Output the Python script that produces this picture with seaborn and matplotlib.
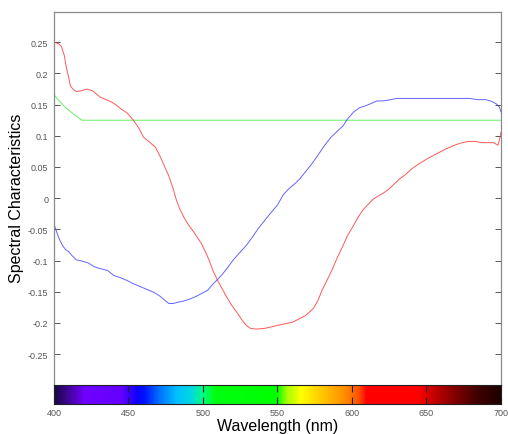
import numpy as np
import pandas as pd
import matplotlib
matplotlib.use("Agg")
import matplotlib.pyplot as plt
from matplotlib.colors import LinearSegmentedColormap
import seaborn as sns

# Red characteristic (wavelength nm, value)
red_nm = [400, 403, 405, 407, 408, 410, 411, 413, 415, 418, 422, 426, 431, 435, 438,
          442, 445, 449, 453, 457, 460, 464, 468, 471, 474, 477, 480, 482, 484, 487,
          490, 494, 499, 502, 504, 507, 510, 513, 516, 519, 523, 526, 529, 532, 536,
          541, 545, 550, 554, 560, 565, 569, 574, 577, 580, 584, 587, 590, 594, 597,
          601, 604, 607, 610, 614, 618, 621, 625, 628, 632, 636, 640, 643, 647, 651,
          655, 659, 663, 666, 670, 674, 678, 683, 687, 691, 695, 698, 699, 700]
red_val = [0.250, 0.248, 0.243, 0.228, 0.213, 0.192, 0.180, 0.174, 0.171, 0.172, 0.175,
           0.172, 0.162, 0.158, 0.155, 0.149, 0.143, 0.137, 0.126, 0.112, 0.098, 0.090,
           0.082, 0.068, 0.052, 0.036, 0.015, -0.002, -0.015, -0.030, -0.042, -0.055,
           -0.073, -0.088, -0.099, -0.118, -0.133, -0.146, -0.159, -0.171, -0.184,
           -0.195, -0.204, -0.209, -0.210, -0.209, -0.207, -0.204, -0.202, -0.199,
           -0.193, -0.188, -0.177, -0.165, -0.147, -0.128, -0.113, -0.096, -0.076,
           -0.060, -0.044, -0.031, -0.020, -0.012, -0.002, 0.004, 0.008, 0.015, 0.022,
           0.031, 0.038, 0.047, 0.052, 0.058, 0.064, 0.069, 0.074, 0.079, 0.082, 0.086,
           0.089, 0.091, 0.091, 0.089, 0.089, 0.089, 0.085, 0.094, 0.106]

# Blue characteristic
blue_nm = [400, 401, 403, 404, 406, 408, 410, 412, 415, 419, 423, 427, 431, 436, 440,
           444, 449, 453, 458, 462, 467, 471, 474, 477, 480, 483, 487, 491, 495, 499,
           503, 507, 510, 513, 517, 520, 524, 529, 533, 537, 541, 545, 550, 554, 558,
           562, 565, 569, 573, 576, 580, 583, 586, 590, 594, 597, 601, 605, 609, 613,
           617, 621, 626, 630, 640, 650, 660, 670, 679, 684, 690, 694, 697, 699, 700]
blue_val = [-0.041, -0.049, -0.062, -0.068, -0.077, -0.083, -0.086, -0.092, -0.099,
            -0.101, -0.104, -0.110, -0.113, -0.116, -0.124, -0.127, -0.132, -0.137,
            -0.142, -0.146, -0.151, -0.157, -0.163, -0.169, -0.169, -0.167, -0.165,
            -0.162, -0.158, -0.153, -0.148, -0.137, -0.130, -0.122, -0.110, -0.100,
            -0.089, -0.076, -0.063, -0.049, -0.037, -0.025, -0.011, 0.006, 0.016,
            0.024, 0.031, 0.043, 0.055, 0.065, 0.079, 0.089, 0.098, 0.107, 0.116,
            0.127, 0.138, 0.145, 0.148, 0.152, 0.156, 0.156, 0.158, 0.160, 0.160,
            0.160, 0.160, 0.160, 0.160, 0.158, 0.158, 0.155, 0.151, 0.146, 0.138]

# Green characteristic
green_nm = [400, 402, 404, 407, 410, 413, 416, 418, 419, 700]
green_val = [0.166, 0.160, 0.155, 0.147, 0.141, 0.135, 0.130, 0.126, 0.125, 0.125]

y_ticks = [-0.25, -0.2, -0.15, -0.1, -0.05, 0, 0.05, 0.1, 0.15, 0.2, 0.25]
y_tick_labels = ["-0.25", "-0.2", "-0.15", "-0.1", "-0.05", "0", "0.05", "0.1",
                 "0.15", "0.2", "0.25"]
x_ticks = [400, 450, 500, 550, 600, 650, 700]

# Visible spectrum strip colours
spec_nm = [400, 420, 445, 455, 460, 470, 482, 492, 500, 508, 550, 556, 566, 582,
           596, 605, 610, 645, 655, 670, 685, 700]
spec_col = ["#1c0848", "#7000ff", "#6400ff", "#1000ff", "#0010ff", "#0070ff",
            "#00c0ff", "#00d8e0", "#00ff80", "#00ff10", "#00ff00", "#a0ff00",
            "#ffff00", "#ffc000", "#ff8a00", "#ff5000", "#ff0000", "#ff0000",
            "#c80000", "#800000", "#400000", "#200000"]

sns.set_style("white")
plt.rcParams["font.family"] = ["Liberation Sans", "DejaVu Sans"]
plt.rcParams["axes.unicode_minus"] = False

W, H = 508, 435
fig = plt.figure(figsize=(W / 100, H / 100), dpi=100)
left, right = 54 / W, 501 / W
ax = fig.add_axes([left, 1 - 386 / H, right - left, (386 - 13) / H])
cax = fig.add_axes([left, 1 - 405 / H, right - left, 19 / H])

frames = {
    "red": pd.DataFrame({"nm": red_nm, "v": red_val}),
    "blue": pd.DataFrame({"nm": blue_nm, "v": blue_val}),
    "green": pd.DataFrame({"nm": green_nm, "v": green_val}),
}
colors = {"red": "#ff2020", "blue": "#3030ff", "green": "#30e830"}
for name in ["green", "blue", "red"]:
    sns.lineplot(data=frames[name], x="nm", y="v", ax=ax, color=colors[name],
                 linewidth=0.7, alpha=0.75, sort=False, estimator=None)

ax.set_xlim(400, 700)
ax.set_ylim(-0.2997, 0.2986)
ax.set_xticks([])
ax.set_xlabel("")
ax.set_ylabel("")
ax.set_yticks(y_ticks)
ax.set_yticklabels(y_tick_labels)
ax.tick_params(axis="y", direction="in", length=4, width=0.7, color="#555555",
               labelsize=6.5, labelcolor="#555555", pad=4, left=True, right=True)
for side in ["left", "right", "top"]:
    ax.spines[side].set_visible(True)
    ax.spines[side].set_color("#8a8a8a")
    ax.spines[side].set_linewidth(0.9)
ax.spines["bottom"].set_visible(False)

# Spectrum strip
cmap = LinearSegmentedColormap.from_list(
    "spectrum", [((n - 400) / 300, c) for n, c in zip(spec_nm, spec_col)])
grad = np.linspace(0, 1, 600)[None, :]
cax.imshow(grad, aspect="auto", cmap=cmap, extent=[400, 700, 0, 1])
cax.set_xlim(400, 700)
cax.set_ylim(0, 1)
cax.set_yticks([])
cax.set_xticks(x_ticks)
cax.set_xticklabels([str(t) for t in x_ticks])
cax.tick_params(axis="x", direction="in", length=5, width=0.8, color="#202020",
                labelsize=6.5, labelcolor="#555555", pad=3, top=True, bottom=True)
for side in cax.spines.values():
    side.set_visible(True)
    side.set_color("#202020")
    side.set_linewidth(0.8)

fig.text(17 / W, 1 - 198 / H, "Spectral Characteristics", rotation=90,
         ha="center", va="center", fontsize=11.5, color="black")
fig.text((left + right) / 2, 1 - 431 / H, "Wavelength (nm)", ha="center",
         va="baseline", fontsize=11.5, color="black")

fig.savefig("out.png", dpi=100)
